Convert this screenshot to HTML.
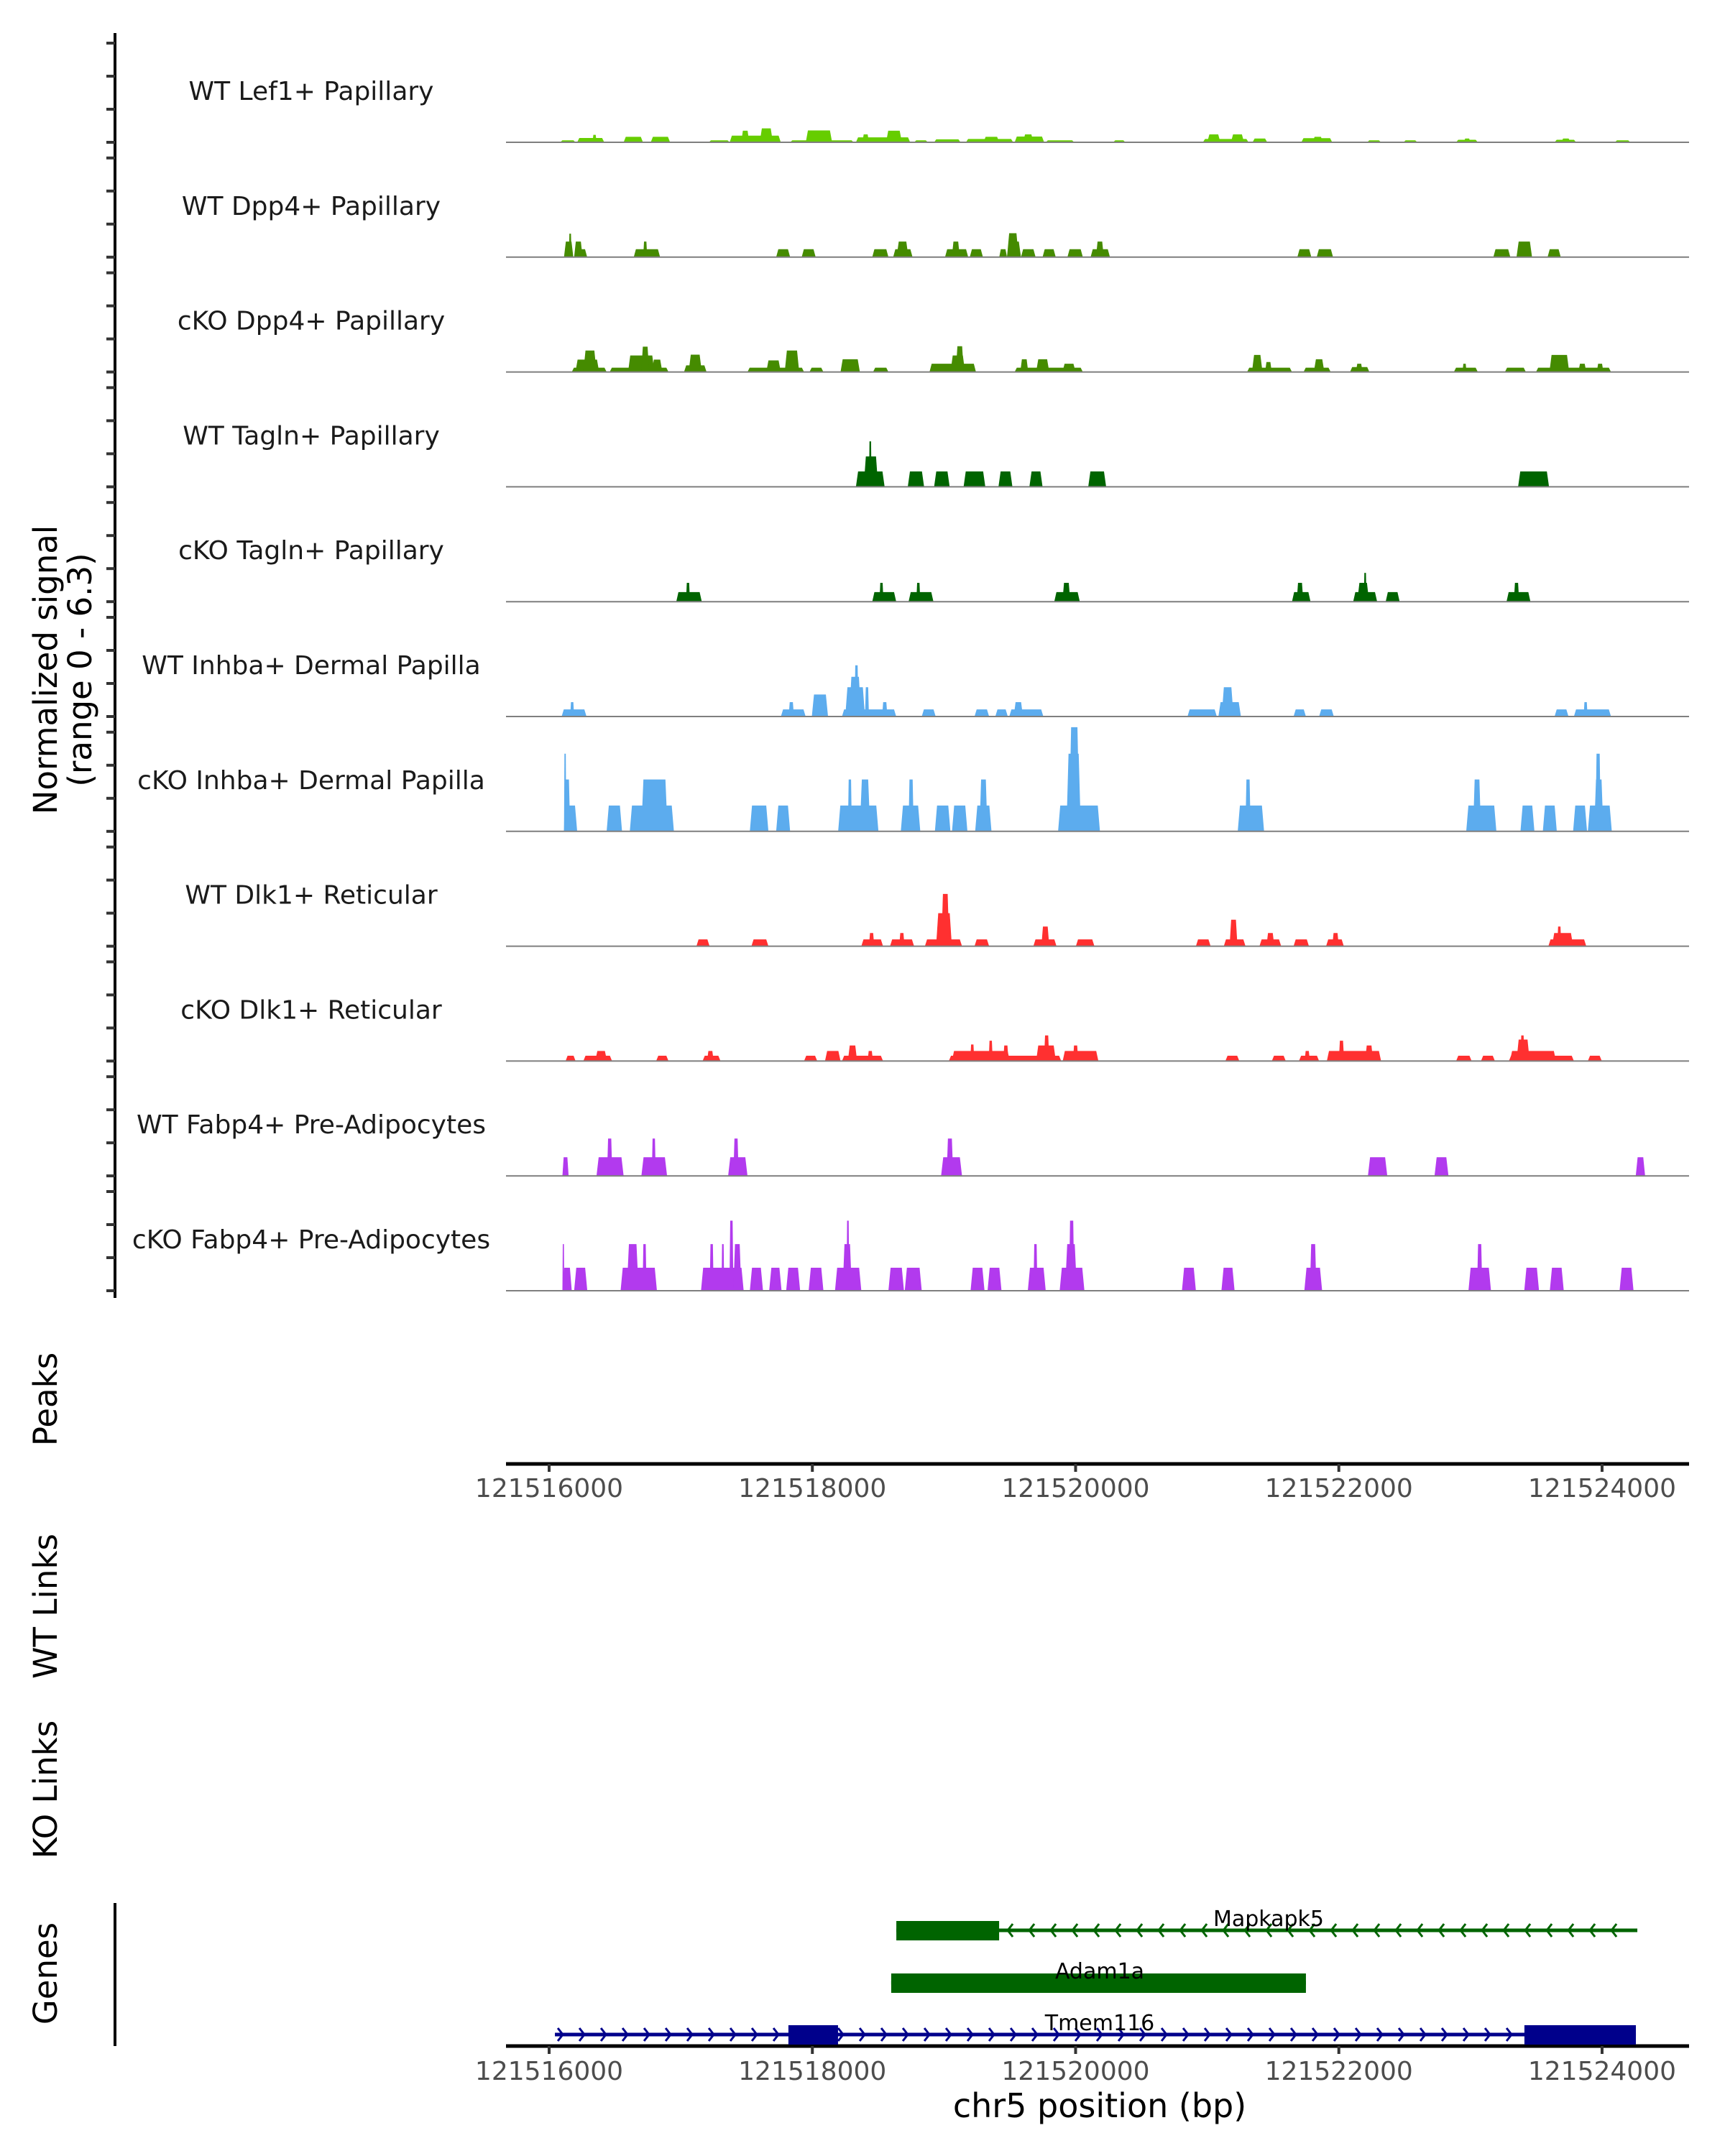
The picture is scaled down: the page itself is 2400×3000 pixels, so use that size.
<!DOCTYPE html>
<html><head><meta charset="utf-8">
<style>
html,body{margin:0;padding:0;background:#fff;}
svg{display:block;font-family:"DejaVu Sans","Liberation Sans",sans-serif;}
</style></head>
<body>
<svg id="chart" width="2400" height="3000" viewBox="0 0 2400 3000" xmlns="http://www.w3.org/2000/svg">
<rect x="0" y="0" width="2400" height="3000" fill="#fff"/>
<g id="tracks"></g>
<g id="axes"></g>
<g id="genes"></g>
<text x="0" y="0" transform="translate(79,932) rotate(-90)" text-anchor="middle" font-size="45" fill="#000">Normalized signal</text>
<text x="0" y="0" transform="translate(127,932) rotate(-90)" text-anchor="middle" font-size="45" fill="#000">(range 0 - 6.3)</text>
<text x="0" y="0" transform="translate(79,1947) rotate(-90)" text-anchor="middle" font-size="45" fill="#000">Peaks</text>
<text x="0" y="0" transform="translate(79,2235) rotate(-90)" text-anchor="middle" font-size="45" fill="#000">WT Links</text>
<text x="0" y="0" transform="translate(79,2490) rotate(-90)" text-anchor="middle" font-size="45" fill="#000">KO Links</text>
<text x="0" y="0" transform="translate(79,2746) rotate(-90)" text-anchor="middle" font-size="45" fill="#000">Genes</text>
<text x="1530" y="2946" text-anchor="middle" font-size="46" fill="#000">chr5 position (bp)</text>
</svg>
<script>
// ---- data (positions are bp offsets from regionStart, heights in normalized signal) ----
const regionStart = 121516000;
const xTicks = [121516000, 121518000, 121520000, 121522000, 121524000];
const yTicks = [0, 2, 4, 6];
const trackNames = ["WT Lef1+ Papillary","WT Dpp4+ Papillary","cKO Dpp4+ Papillary","WT Tagln+ Papillary","cKO Tagln+ Papillary","WT Inhba+ Dermal Papilla","cKO Inhba+ Dermal Papilla","WT Dlk1+ Reticular","cKO Dlk1+ Reticular","WT Fabp4+ Pre-Adipocytes","cKO Fabp4+ Pre-Adipocytes"];
const trackColors = ["#66CD00","#458B00","#458B00","#006400","#006400","#5CACEE","#5CACEE","#FF3030","#FF3030","#B23AEE","#B23AEE"];
const lef1WT = [[84,201,0.12],[213,419,0.26],[330,360,0.45],[566,713,0.33],[772,919,0.33],[1213,1372,0.12],[1372,1760,0.4],[1460,1520,0.7],[1600,1700,0.84],[1831,2314,0.12],[1950,2150,0.72],[2331,2743,0.3],[2380,2430,0.48],[2560,2680,0.7],[2773,2878,0.12],[2925,3126,0.18],[3167,3526,0.2],[3300,3420,0.33],[3537,3761,0.35],[3600,3680,0.48],[3773,3990,0.12],[4285,4379,0.12],[4967,5314,0.2],[5000,5100,0.48],[5180,5280,0.48],[5344,5456,0.23],[5715,5950,0.25],[5800,5880,0.33],[6215,6321,0.12],[6491,6597,0.12],[6891,7056,0.15],[6950,7000,0.23],[7639,7803,0.15],[7690,7760,0.23],[8097,8215,0.12]];
const dpp4WT = [[113,184,0.94],[150,170,1.42],[190,254,0.94],[190,289,0.48],[643,843,0.48],[715,745,0.94],[1725,1831,0.48],[1919,2025,0.48],[2455,2578,0.48],[2614,2761,0.48],[2640,2730,0.94],[3008,3184,0.48],[3060,3120,0.94],[3196,3296,0.48],[3420,3479,0.48],[3479,3567,1.45],[3479,3585,0.94],[3585,3696,0.48],[3749,3849,0.48],[3938,4055,0.48],[4114,4261,0.48],[4155,4214,0.94],[5685,5791,0.48],[5832,5956,0.48],[7174,7303,0.48],[7350,7468,0.94],[7586,7686,0.48]];
const dpp4KO = [[172,437,0.26],[200,380,0.75],[260,360,1.3],[460,907,0.26],[600,800,1.0],[700,760,1.53],[780,860,0.75],[1025,1196,0.4],[1060,1160,1.05],[1507,1937,0.26],[1650,1760,0.7],[1790,1900,1.3],[1978,2084,0.26],[2214,2361,0.77],[2461,2578,0.26],[2890,3243,0.5],[3050,3160,1.0],[3090,3150,1.56],[3537,4055,0.26],[3580,3640,0.77],[3700,3800,0.77],[3900,4000,0.5],[5303,5644,0.26],[5340,5420,1.03],[5440,5490,0.6],[5732,5938,0.26],[5810,5890,0.77],[6085,6232,0.3],[6130,6180,0.5],[6874,7056,0.26],[6940,6970,0.5],[7262,7421,0.26],[7498,8068,0.26],[7600,7750,1.03],[7820,7880,0.5],[7960,8010,0.5]];
const taglnWT = [[2331,2549,0.93],[2390,2500,1.84],[2430,2450,2.75],[2725,2849,0.93],[2925,3043,0.93],[3149,3314,0.93],[3414,3520,0.93],[3649,3749,0.93],[4096,4232,0.93],[7362,7597,0.93]];
const taglnKO = [[966,1160,0.58],[1040,1070,1.14],[2455,2637,0.58],[2510,2540,1.14],[2731,2920,0.58],[2790,2820,1.14],[3838,4032,0.58],[3900,3960,1.14],[5644,5785,0.58],[5680,5730,1.14],[6109,6291,0.58],[6140,6230,1.14],[6190,6210,1.74],[6356,6462,0.58],[7274,7456,0.58],[7330,7370,1.14]];
const inhbaWT = [[95,284,0.43],[160,190,0.87],[1761,1949,0.43],[1820,1860,0.87],[1996,2119,1.33],[2225,2637,0.43],[2250,2400,1.77],[2280,2370,2.4],[2320,2350,3.1],[2400,2430,1.77],[2530,2570,0.87],[2831,2937,0.43],[3232,3343,0.43],[3390,3485,0.43],[3496,3755,0.43],[3530,3600,0.87],[4850,5073,0.43],[5085,5256,0.87],[5110,5200,1.77],[5656,5750,0.43],[5850,5962,0.43],[7639,7745,0.43],[7786,8068,0.43],[7860,7890,0.87]];
const inhbaKO = [[113,213,1.56],[113,160,3.14],[113,130,4.7],[437,554,1.56],[613,948,1.56],[700,900,3.14],[1525,1666,1.56],[1725,1831,1.56],[2196,2502,1.56],[2270,2300,3.14],[2360,2440,3.14],[2672,2820,1.56],[2730,2770,3.14],[2931,3049,1.56],[3061,3178,1.56],[3237,3361,1.56],[3270,3330,3.14],[3867,4185,1.56],[3930,4040,4.7],[3950,4030,6.3],[5232,5432,1.56],[5290,5330,3.14],[6968,7197,1.56],[7020,7080,3.14],[7380,7486,1.56],[7550,7656,1.56],[7780,7886,1.56],[7892,8074,1.56],[7940,8010,3.14],[7950,7990,4.7]];
const dlk1WT = [[1119,1219,0.41],[1537,1666,0.41],[2372,2537,0.41],[2430,2470,0.8],[2590,2773,0.41],[2660,2700,0.8],[2855,3137,0.41],[2940,3060,2.0],[2980,3040,3.16],[3232,3343,0.41],[3679,3855,0.41],[3740,3800,1.19],[4002,4143,0.41],[4914,5026,0.41],[5126,5291,0.41],[5170,5230,1.6],[5397,5562,0.41],[5450,5510,0.8],[5656,5773,0.41],[5903,6038,0.41],[5950,6000,0.8],[7592,7880,0.41],[7620,7780,0.8],[7660,7690,1.19]];
const dlk1KO = [[125,201,0.32],[260,478,0.32],[350,440,0.61],[813,907,0.32],[1166,1302,0.32],[1200,1250,0.61],[1937,2037,0.32],[2096,2214,0.61],[2225,2537,0.32],[2270,2340,0.94],[2420,2460,0.61],[3037,3891,0.32],[3060,3500,0.61],[3200,3230,1.0],[3340,3370,1.23],[3450,3490,0.94],[3700,3850,0.94],[3760,3800,1.55],[3902,4173,0.61],[3980,4020,0.94],[5138,5244,0.32],[5491,5597,0.32],[5697,5850,0.32],[5740,5780,0.61],[5909,6321,0.61],[6000,6040,1.23],[6200,6260,0.94],[6891,7009,0.32],[7080,7186,0.32],[7292,7786,0.32],[7300,7650,0.61],[7350,7450,1.3],[7380,7410,1.55],[7892,7998,0.32]];
const fabp4WT = [[101,148,1.13],[360,566,1.13],[440,480,2.26],[701,896,1.13],[780,810,2.26],[1360,1507,1.13],[1400,1440,2.26],[2978,3137,1.13],[3020,3070,2.26],[6221,6368,1.13],[6727,6833,1.13],[8256,8327,1.13]];
const fabp4KO = [[101,172,1.39],[101,115,2.82],[190,290,1.39],[543,819,1.39],[590,680,2.82],[710,740,2.82],[1154,1478,1.39],[1220,1250,2.82],[1310,1330,2.82],[1370,1400,4.24],[1400,1460,2.82],[1525,1625,1.39],[1672,1766,1.39],[1801,1907,1.39],[1972,2084,1.39],[2172,2372,1.39],[2230,2300,2.82],[2260,2280,4.24],[2578,2696,1.39],[2702,2831,1.39],[3202,3308,1.39],[3331,3437,1.39],[3637,3773,1.39],[3680,3710,2.82],[3879,4067,1.39],[3920,4010,2.82],[3950,3990,4.24],[4808,4914,1.39],[5108,5208,1.39],[5738,5873,1.39],[5780,5830,2.82],[6985,7156,1.39],[7050,7090,2.82],[7409,7521,1.39],[7603,7709,1.39],[8133,8239,1.39]];
const geneNames = ["Mapkapk5","Adam1a","Tmem116"];
const geneStarts = [121518638, 121518599, 121516044];
const geneEnds = [121524268, 121521750, 121524257];
const geneStrands = [-1, 0, 1];
const geneExonStarts = [[121518638],[121518599],[121517818,121523410]];
const geneExonEnds = [[121519419],[121521750],[121518195,121524257]];
</script>
<script>
const NS = "http://www.w3.org/2000/svg";
const tracksData = [lef1WT,dpp4WT,dpp4KO,taglnWT,taglnKO,inhbaWT,inhbaKO,dlk1WT,dlk1KO,fabp4WT,fabp4KO];
const plotLeft = 704, plotRight = 2350;
function xScale(bp){ return 764 + (bp - 121516000) * 0.18312; }
function baseY(i){ return 198 + i * 159.8; }
function yScale(i, v){ return baseY(i) - v * 23; }
function mk(tag, attrs, parent){ const e=document.createElementNS(NS,tag); for(const k in attrs) e.setAttribute(k, attrs[k]); parent.appendChild(e); return e; }
const gT = document.getElementById('tracks');
const gA = document.getElementById('axes');
const gG = document.getElementById('genes');

const axl = mk('line',{x1:160,y1:46,x2:160,y2:1806,stroke:'#000','stroke-width':4},gA);



tracksData.forEach((peaks, i) => {
  const by = baseY(i);
  const g = mk('g',{},gT);
  
  
  peaks.forEach(p => {
    const x1 = xScale(regionStart + p[0]), x2 = xScale(regionStart + p[1]);
    const yt = yScale(i, p[2]);
    const s = Math.min(3, (x2-x1)*0.2);
    const poly = mk('polygon',{points:`${x1},${by} ${x1+s},${yt} ${x2-s},${yt} ${x2},${by}`, fill:trackColors[i]}, g);
    
    
  });
  const bl = mk('line',{x1:plotLeft,y1:by,x2:plotRight,y2:by,stroke:'#7f7f7f','stroke-width':2},g);
  
  
  const lb = mk('text',{x:433,y:by-59,'text-anchor':'middle','font-size':36,fill:'#1a1a1a'},g);
  lb.textContent = trackNames[i];
  
  
  yTicks.forEach(t => {
    const ty = yScale(i, t);
    const tk = mk('line',{x1:148,y1:ty,x2:160,y2:ty,stroke:'#333','stroke-width':4},gA);
    
    
  });
});

[[2037,2070],[2847,2881]].forEach((a, k) => {
  const ln = mk('line',{x1:plotLeft,y1:a[0],x2:plotRight,y2:a[0],stroke:'#000','stroke-width':5},gA);
  
  
  xTicks.forEach(t => {
    const x = xScale(t);
    const tk = mk('line',{x1:x,y1:a[0],x2:x,y2:a[0]+11,stroke:'#333','stroke-width':4},gA);
    
    
    const tl = mk('text',{x:x,y:a[1]+13,'text-anchor':'middle','font-size':36,fill:'#4d4d4d'},gA);
    tl.textContent = String(t);
    
    
  });
});
const gax = mk('line',{x1:160,y1:2648,x2:160,y2:2847,stroke:'#000','stroke-width':4},gA);



const geneRowY = [2686, 2759, 2831];
const geneColors = ['#006400','#006400','#00008B'];
geneNames.forEach((nm, i) => {
  const y = geneRowY[i], c = geneColors[i];
  const g = mk('g',{},gG);
  
  
  const x1 = xScale(geneStarts[i]), x2 = xScale(geneEnds[i]);
  const ln = mk('line',{x1:x1,y1:y,x2:x2,y2:y,stroke:c,'stroke-width':5},g);
  
  
  if (geneStrands[i] !== 0) {
    for (let x = x1 + 8; x < x2 - 4; x += 30) {
      const d = geneStrands[i] > 0 ? `M${x-4},${y-9} L${x+3},${y} L${x-4},${y+9}` : `M${x+4},${y-9} L${x-3},${y} L${x+4},${y+9}`;
      const ch = mk('path',{d:d,fill:'none',stroke:c,'stroke-width':3},g);
      
      
    }
  }
  geneExonStarts[i].forEach((s, j) => {
    const ex1 = xScale(s), ex2 = xScale(geneExonEnds[i][j]);
    const r = mk('rect',{x:ex1,y:y-13,width:ex2-ex1,height:27,fill:c},g);
    
    
  });
  const t = mk('text',{x: i===0 ? 1765 : 1530, y: y-6,'text-anchor':'middle','font-size':30,fill:'#000'},g);
  t.textContent = nm;
  
  
});
</script>
</body></html>
